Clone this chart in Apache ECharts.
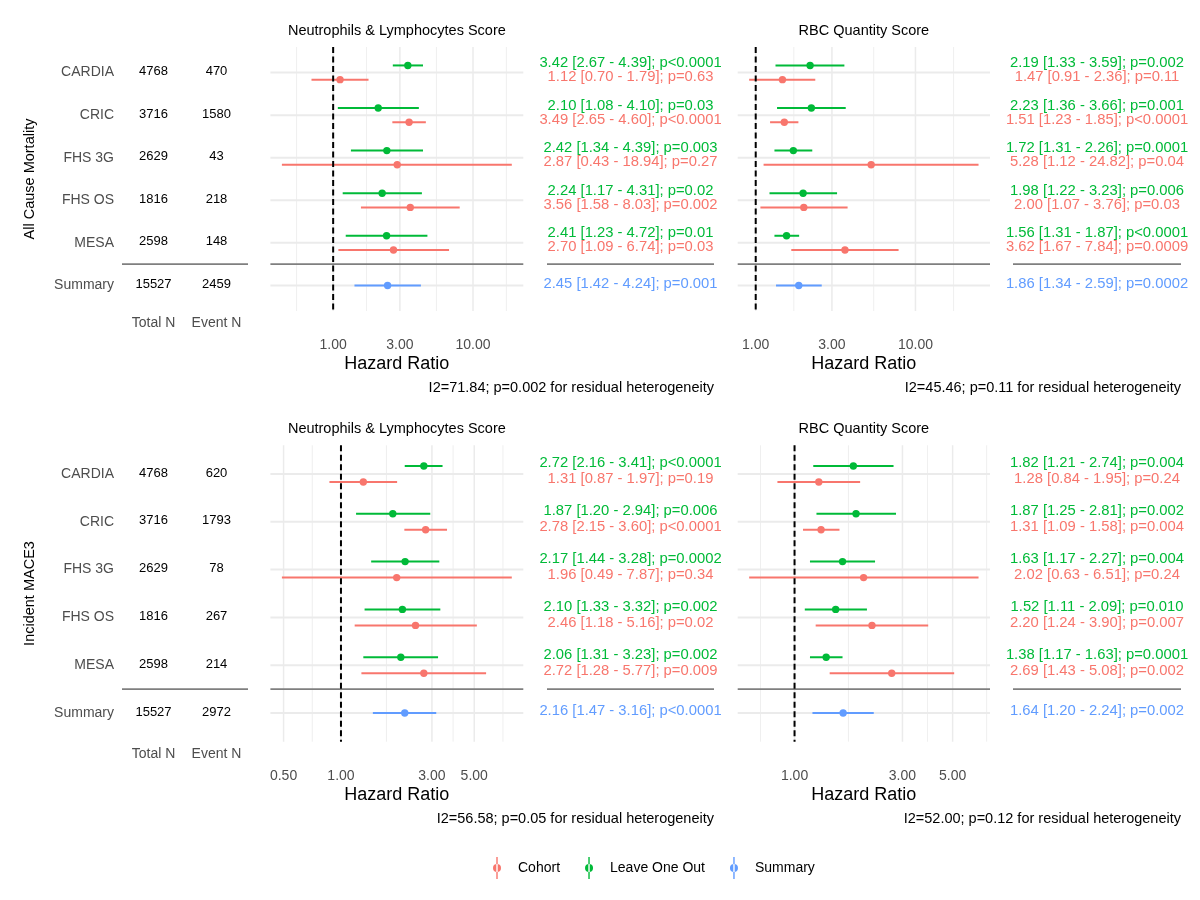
<!DOCTYPE html>
<html lang="en">
<head>
<meta charset="utf-8">
<title>Forest plot</title>
<script src="https://cdn.jsdelivr.net/npm/echarts@6.0.0/dist/echarts.min.js"></script>
<style>
  html, body { margin: 0; padding: 0; background: #fff; }
  #main { width: 1200px; height: 900px; }
</style>
</head>
<body>
<div id="main"></div>
<script>
// ---- data ----
var cohorts = ['CARDIA', 'CRIC', 'FHS 3G', 'FHS OS', 'MESA', 'Summary'];
var colHeads = ['Total N', 'Event N'];
var totalN = [4768, 3716, 2629, 1816, 2598, 15527];
var eventN = [[470, 1580, 43, 218, 148, 2459], [620, 1793, 78, 267, 214, 2972]];
var outcomes = ['All Cause Mortality', 'Incident MACE3'];
var scores = ['Neutrophils & Lymphocytes Score', 'RBC Quantity Score'];

// indexed [outcome][score][cohort]
var looEst = [[[3.42, 2.10, 2.42, 2.24, 2.41], [2.19, 2.23, 1.72, 1.98, 1.56]],
              [[2.72, 1.87, 2.17, 2.10, 2.06], [1.82, 1.87, 1.63, 1.52, 1.38]]];
var looLo  = [[[2.67, 1.08, 1.34, 1.17, 1.23], [1.33, 1.36, 1.31, 1.22, 1.31]],
              [[2.16, 1.20, 1.44, 1.33, 1.31], [1.21, 1.25, 1.17, 1.11, 1.17]]];
var looHi  = [[[4.39, 4.10, 4.39, 4.31, 4.72], [3.59, 3.66, 2.26, 3.23, 1.87]],
              [[3.41, 2.94, 3.28, 3.32, 3.23], [2.74, 2.81, 2.27, 2.09, 1.63]]];
var looP   = [[['p<0.0001', 'p=0.03', 'p=0.003', 'p=0.02', 'p=0.01'], ['p=0.002', 'p=0.001', 'p=0.0001', 'p=0.006', 'p<0.0001']],
              [['p<0.0001', 'p=0.006', 'p=0.0002', 'p=0.002', 'p=0.002'], ['p=0.004', 'p=0.002', 'p=0.004', 'p=0.010', 'p=0.0001']]];

var cohEst = [[[1.12, 3.49, 2.87, 3.56, 2.70], [1.47, 1.51, 5.28, 2.00, 3.62]],
              [[1.31, 2.78, 1.96, 2.46, 2.72], [1.28, 1.31, 2.02, 2.20, 2.69]]];
var cohLo  = [[[0.70, 2.65, 0.43, 1.58, 1.09], [0.91, 1.23, 1.12, 1.07, 1.67]],
              [[0.87, 2.15, 0.49, 1.18, 1.28], [0.84, 1.09, 0.63, 1.24, 1.43]]];
var cohHi  = [[[1.79, 4.60, 18.94, 8.03, 6.74], [2.36, 1.85, 24.82, 3.76, 7.84]],
              [[1.97, 3.60, 7.87, 5.16, 5.77], [1.95, 1.58, 6.51, 3.90, 5.08]]];
var cohP   = [[['p=0.63', 'p<0.0001', 'p=0.27', 'p=0.002', 'p=0.03'], ['p=0.11', 'p<0.0001', 'p=0.04', 'p=0.03', 'p=0.0009']],
              [['p=0.19', 'p<0.0001', 'p=0.34', 'p=0.02', 'p=0.009'], ['p=0.24', 'p=0.004', 'p=0.24', 'p=0.007', 'p=0.002']]];

var sumEst = [[2.45, 1.86], [2.16, 1.64]];
var sumLo  = [[1.42, 1.34], [1.47, 1.20]];
var sumHi  = [[4.24, 2.59], [3.16, 2.24]];
var sumP   = [['p=0.001', 'p=0.0002'], ['p<0.0001', 'p=0.002']];

var hetI2 = [[71.84, 45.46], [56.58, 52.00]];
var hetP  = [['0.002', '0.11'], ['0.05', '0.12']];

// log-axis breaks for each outcome row
var axisBreaks = [[0.3, 1, 3, 10, 30], [0.5, 1, 3, 5, 10]];

// ---- look ----
var FONT = '"Liberation Sans", Arial, Helvetica, sans-serif';
var RED = '#F8766D', GREEN = '#00BA38', BLUE = '#619CFF';
var GRIDCOL = '#ebebeb';
var UP = -0.167, DOWN = 0.167;   // dodge of the two estimates within a row

var rowTop = [47, 445.3];
var rowH = [264, 296.4];
var tableBox = {left: 122, width: 126};
var forestBox = [{left: 270.4, width: 252.9}, {left: 737.7, width: 252.3}];
var textBox = [{left: 547, width: 167}, {left: 1013, width: 168}];

var grids = [], xAxes = [], yAxes = [], series = [], graphics = [];

function addGrid(box, r) {
    grids.push({left: box.left, top: rowTop[r], width: box.width, height: rowH[r], containLabel: false});
    return grids.length - 1;
}

function rowAxis(gi, showNames) {
    return {
        gridIndex: gi, type: 'value', min: 0.4, max: 6.6, inverse: true,
        axisLine: {show: false}, axisTick: {show: false}, splitLine: {show: false},
        axisLabel: showNames ? {
            show: true, customValues: [1, 2, 3, 4, 5, 6], margin: 8,
            color: '#4d4d4d', fontSize: 14, fontFamily: FONT,
            formatter: function (v) { return cohorts[Math.round(v) - 1]; }
        } : {show: false}
    };
}

function vLines(gi, values, style, z) {
    return {
        type: 'custom', xAxisIndex: gi, yAxisIndex: gi, z: z, silent: true, clip: false,
        data: values.map(function (v) { return [v, 1]; }),
        renderItem: function (params, api) {
            var cs = params.coordSys;
            var x = api.coord([api.value(0), 1])[0];
            return {type: 'line', shape: {x1: x, y1: cs.y, x2: x, y2: cs.y + cs.height},
                    style: Object.assign({}, style)};
        }
    };
}

function hLines(gi, values, xRef, style, z) {
    return {
        type: 'custom', xAxisIndex: gi, yAxisIndex: gi, z: z, silent: true, clip: false,
        data: values.map(function (v) { return [xRef, v]; }),
        renderItem: function (params, api) {
            var cs = params.coordSys;
            var y = api.coord([xRef, api.value(1)])[1];
            return {type: 'line', shape: {x1: cs.x, y1: y, x2: cs.x + cs.width, y2: y},
                    style: Object.assign({}, style)};
        }
    };
}

function barSeries(gi, name, color, est, lo, hi, ys) {
    return {
        type: 'custom', name: name, xAxisIndex: gi, yAxisIndex: gi, z: 4, clip: false,
        itemStyle: {color: color},
        encode: {x: [0, 1, 2], y: 3},
        data: est.map(function (e, i) { return [e, lo[i], hi[i], ys[i]]; }),
        renderItem: function (params, api) {
            var y = api.value(3);
            var a = api.coord([api.value(1), y]);
            var b = api.coord([api.value(2), y]);
            var c = api.coord([api.value(0), y]);
            return {type: 'group', children: [
                {type: 'line', shape: {x1: a[0], y1: a[1], x2: b[0], y2: b[1]},
                 style: {stroke: color, lineWidth: 2}},
                {type: 'circle', shape: {cx: c[0], cy: c[1], r: 3.7}, style: {fill: color}}
            ]};
        }
    };
}

function textSeries(gi, pts, texts, color, size, dy) {
    return {
        type: 'custom', xAxisIndex: gi, yAxisIndex: gi, z: 5, silent: true, clip: false,
        data: pts,
        renderItem: function (params, api) {
            var p = api.coord([api.value(0), api.value(1)]);
            return {type: 'text', x: p[0], y: p[1] + dy, style: {
                text: texts[params.dataIndex], fill: color, fontSize: size, fontFamily: FONT,
                textAlign: 'center', textVerticalAlign: 'middle', align: 'center', verticalAlign: 'middle'}};
        }
    };
}

function hrLabel(e, l, h, p) {
    return e.toFixed(2) + ' [' + l.toFixed(2) + ' - ' + h.toFixed(2) + ']; ' + p;
}

var SEP = {stroke: '#7f7f7f', lineWidth: 1.6};
var HGRID = {stroke: GRIDCOL, lineWidth: 2};
var MAJOR = {stroke: GRIDCOL, lineWidth: 1.5};
var MINOR = {stroke: GRIDCOL, lineWidth: 0.8};
var rows5 = [1, 2, 3, 4, 5];

for (var r = 0; r < 2; r++) {
    // left table: cohort names, totals, events
    var tg = addGrid(tableBox, r);
    xAxes.push({gridIndex: tg, type: 'category', data: colHeads,
        axisLine: {show: false}, axisTick: {show: false}, splitLine: {show: false},
        axisLabel: {interval: 0, margin: 5, color: '#4d4d4d', fontSize: 14, fontFamily: FONT}});
    yAxes.push(rowAxis(tg, true));
    series.push(hLines(tg, [5.5], 0, SEP, 2));
    var tPts = [], tTxt = [];
    cohorts.forEach(function (c, i) {
        tPts.push([0, i + 1]); tTxt.push(String(totalN[i]));
        tPts.push([1, i + 1]); tTxt.push(String(eventN[r][i]));
    });
    series.push(textSeries(tg, tPts, tTxt, '#000', 13, -1));

    graphics.push({type: 'text', x: 30, y: rowTop[r] + rowH[r] / 2, rotation: Math.PI / 2,
        style: {text: outcomes[r], fill: '#000', fontSize: 14.5, fontFamily: FONT,
                textAlign: 'center', textVerticalAlign: 'middle', align: 'center', verticalAlign: 'middle'}});

    for (var s = 0; s < 2; s++) {
        var fb = forestBox[s];
        var fg = addGrid(fb, r);
        var allVals = cohLo[r][s].concat(cohHi[r][s], looLo[r][s], looHi[r][s], [sumLo[r][s], sumHi[r][s]]);
        var a = Math.log10(Math.min.apply(null, allVals));
        var b = Math.log10(Math.max.apply(null, allVals));
        var pad = (b - a) * 0.05;
        var xMin = Math.pow(10, a - pad), xMax = Math.pow(10, b + pad);
        var brk = axisBreaks[r];
        var major = brk.filter(function (v) { return v >= xMin && v <= xMax; });
        var minor = [];
        for (var k = 0; k + 1 < brk.length; k++) {
            var m = Math.sqrt(brk[k] * brk[k + 1]);
            if (m >= xMin && m <= xMax) minor.push(m);
        }
        xAxes.push({gridIndex: fg, type: 'log', logBase: 10, min: xMin, max: xMax,
            axisLine: {show: false}, axisTick: {show: false}, splitLine: {show: false}, minorSplitLine: {show: false},
            axisLabel: {customValues: major, margin: 27, color: '#4d4d4d', fontSize: 14, fontFamily: FONT,
                        formatter: function (v) { return Number(v).toFixed(2); }},
            name: 'Hazard Ratio', nameLocation: 'middle', nameGap: 44,
            nameTextStyle: {color: '#000', fontSize: 18, fontFamily: FONT}});
        yAxes.push(rowAxis(fg, false));

        series.push(vLines(fg, minor, MINOR, 1));
        series.push(vLines(fg, major, MAJOR, 1));
        series.push(hLines(fg, [1, 2, 3, 4, 5, 6], 1, HGRID, 1));
        series.push(hLines(fg, [5.5], 1, SEP, 2));
        series.push(vLines(fg, [1], {stroke: '#000', lineWidth: 2, lineDash: [6, 3.5]}, 6));
        series.push(barSeries(fg, 'Leave One Out', GREEN, looEst[r][s], looLo[r][s], looHi[r][s],
            rows5.map(function (y) { return y + UP; })));
        series.push(barSeries(fg, 'Cohort', RED, cohEst[r][s], cohLo[r][s], cohHi[r][s],
            rows5.map(function (y) { return y + DOWN; })));
        series.push(barSeries(fg, 'Summary', BLUE, [sumEst[r][s]], [sumLo[r][s]], [sumHi[r][s]], [6]));

        graphics.push({type: 'text', x: fb.left + fb.width / 2, y: rowTop[r] - 16,
            style: {text: scores[s], fill: '#000', fontSize: 14.5, fontFamily: FONT,
                    textAlign: 'center', textVerticalAlign: 'middle', align: 'center', verticalAlign: 'middle'}});

        // estimate text column
        var tb = textBox[s];
        var xg = addGrid(tb, r);
        xAxes.push({gridIndex: xg, type: 'value', min: 0, max: 1, show: false});
        yAxes.push(rowAxis(xg, false));
        series.push(hLines(xg, [5.5], 0.5, SEP, 2));
        var gT = [], rT = [];
        for (var i = 0; i < 5; i++) {
            gT.push(hrLabel(looEst[r][s][i], looLo[r][s][i], looHi[r][s][i], looP[r][s][i]));
            rT.push(hrLabel(cohEst[r][s][i], cohLo[r][s][i], cohHi[r][s][i], cohP[r][s][i]));
        }
        series.push(textSeries(xg, rows5.map(function (y) { return [0.5, y + UP]; }), gT, GREEN, 14.8, -2.6));
        series.push(textSeries(xg, rows5.map(function (y) { return [0.5, y + DOWN]; }), rT, RED, 14.8, -2.6));
        series.push(textSeries(xg, [[0.5, 6]], [hrLabel(sumEst[r][s], sumLo[r][s], sumHi[r][s], sumP[r][s])], BLUE, 14.8, -2));

        graphics.push({type: 'text', x: tb.left + tb.width, y: rowTop[r] + rowH[r] + 77,
            style: {text: 'I2=' + hetI2[r][s].toFixed(2) + '; p=' + hetP[r][s] + ' for residual heterogeneity',
                    fill: '#000', fontSize: 14.5, fontFamily: FONT,
                    textAlign: 'right', textVerticalAlign: 'middle', align: 'right', verticalAlign: 'middle'}});
    }
}

var chart = echarts.init(document.getElementById('main'));
chart.setOption({
    backgroundColor: '#ffffff',
    animation: false,
    textStyle: {fontFamily: FONT},
    grid: grids,
    xAxis: xAxes,
    yAxis: yAxes,
    legend: {
        data: ['Cohort', 'Leave One Out', 'Summary'],
        left: 488, top: 852, itemGap: 25, itemWidth: 8, itemHeight: 22,
        icon: 'path://M3.3,0H4.7V22H3.3ZM0,11A4,4,0,1,0,8,11A4,4,0,1,0,0,11Z',
        selectedMode: false,
        textStyle: {color: '#000', fontSize: 14, fontFamily: FONT, padding: [0, 0, 0, 12]}
    },
    graphic: graphics,
    series: series
});
</script>
</body>
</html>
